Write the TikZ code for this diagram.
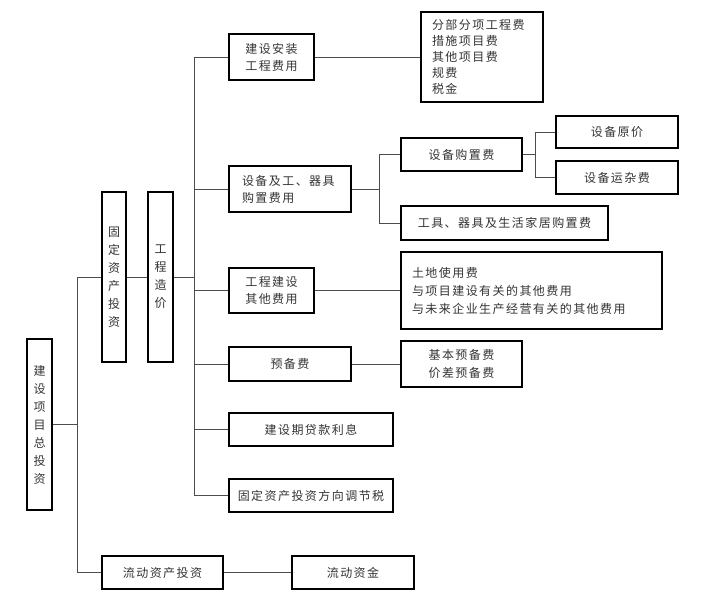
\documentclass[tikz,border=0pt]{standalone}
\usepackage{fontspec}
\newfontfamily\cjk[LetterSpace=12]{Noto Sans CJK SC}
\begin{document}
\begin{tikzpicture}[x=1pt,y=-1pt,
  box/.style={draw=black,line width=1.5pt,inner sep=0pt,font=\cjk\fontsize{12}{17}\selectfont,text=black!80},
  vbox/.style={box,align=center,font=\cjk\fontsize{12}{18}\selectfont},
  lbox/.style={box,align=left,inner xsep=#1},
  link/.style={draw=black!70,line width=0.9pt}]
\useasboundingbox (0,0) rectangle (703,595);
% level 0/1
\node[vbox,minimum width=25,minimum height=171] (total) at (39.5,424.5) {建\\设\\项\\目\\总\\投\\资};
\node[vbox,minimum width=24,minimum height=170] (fixed) at (114,277) {固\\定\\资\\产\\投\\资};
\node[vbox,minimum width=25,minimum height=170] (cost) at (160.5,277) {工\\程\\造\\价};
\node[box,minimum width=121,minimum height=33] (ldzc) at (162.5,572.5) {流动资产投资};
\node[box,minimum width=122,minimum height=33] (ldzj) at (353,572.5) {流动资金};
% level 2
\node[box,minimum width=85,minimum height=46,align=center] (azfy) at (271.5,57) {建设安装\\工程费用};
\node[lbox=11pt,text width=100pt,minimum height=90,font=\cjk\fontsize{12}{16}\selectfont] (azd) at (482,57) {分部分项工程费\\措施项目费\\其他项目费\\规费\\税金};
\node[lbox=13pt,text width=96pt,minimum height=46] (sbgz) at (290,189) {设备及工、器具\\购置费用};
\node[box,minimum width=121,minimum height=33] (sbgzf) at (461.5,154.5) {设备购置费};
\node[box,minimum width=122,minimum height=32] (sbyj) at (617,132) {设备原价};
\node[box,minimum width=122,minimum height=33] (sbyzf) at (617,177.5) {设备运杂费};
\node[box,minimum width=207,minimum height=34] (gjqj) at (504.5,223) {工具、器具及生活家居购置费};
\node[box,minimum width=85,minimum height=45,align=center] (qtfy) at (271.5,290.5) {工程建设\\其他费用};
\node[lbox=11pt,text width=239pt,minimum height=77,font=\cjk\fontsize{12}{18}\selectfont] (qtd) at (531.5,290.5) {土地使用费\\与项目建设有关的其他费用\\与未来企业生产经营有关的其他费用};
\node[box,minimum width=122,minimum height=34] (ybf) at (290,364) {预备费};
\node[box,minimum width=121,minimum height=46,align=center,font=\cjk\fontsize{12}{18}\selectfont] (ybd) at (461.5,364) {基本预备费\\价差预备费};
\node[box,minimum width=164,minimum height=33] (dklx) at (311,429.5) {建设期贷款利息};
\node[box,minimum width=164,minimum height=33] (tjs) at (311,495.5) {固定资产投资方向调节税};
% junction coordinates
\coordinate (j0) at (77,0);
\coordinate (j1) at (194,0);
\coordinate (j2) at (379,0);
\coordinate (j3) at (535,0);
% connectors
\draw[link] (total.east) -- (total.east -| j0);
\draw[link] (fixed.west) -| (j0 |- ldzc.west) -- (ldzc.west);
\draw[link] (fixed.east) -- (cost.west);
\draw[link] (cost.east) -- (cost.east -| j1);
\draw[link] (azfy.west) -| (j1 |- tjs.west) -- (tjs.west);
\draw[link] (sbgz.west) -- (sbgz.west -| j1);
\draw[link] (qtfy.west) -- (qtfy.west -| j1);
\draw[link] (ybf.west) -- (ybf.west -| j1);
\draw[link] (dklx.west) -- (dklx.west -| j1);
\draw[link] (azfy.east) -- (azd.west);
\draw[link] (sbgz.east) -- (sbgz.east -| j2);
\draw[link] (sbgzf.west) -| (j2 |- gjqj.west) -- (gjqj.west);
\draw[link] (sbgzf.east) -- (sbgzf.east -| j3);
\draw[link] (sbyj.west) -| (j3 |- sbyzf.west) -- (sbyzf.west);
\draw[link] (qtfy.east) -- (qtd.west);
\draw[link] (ybf.east) -- (ybd.west);
\draw[link] (ldzc.east) -- (ldzj.west);
\end{tikzpicture}
\end{document}
